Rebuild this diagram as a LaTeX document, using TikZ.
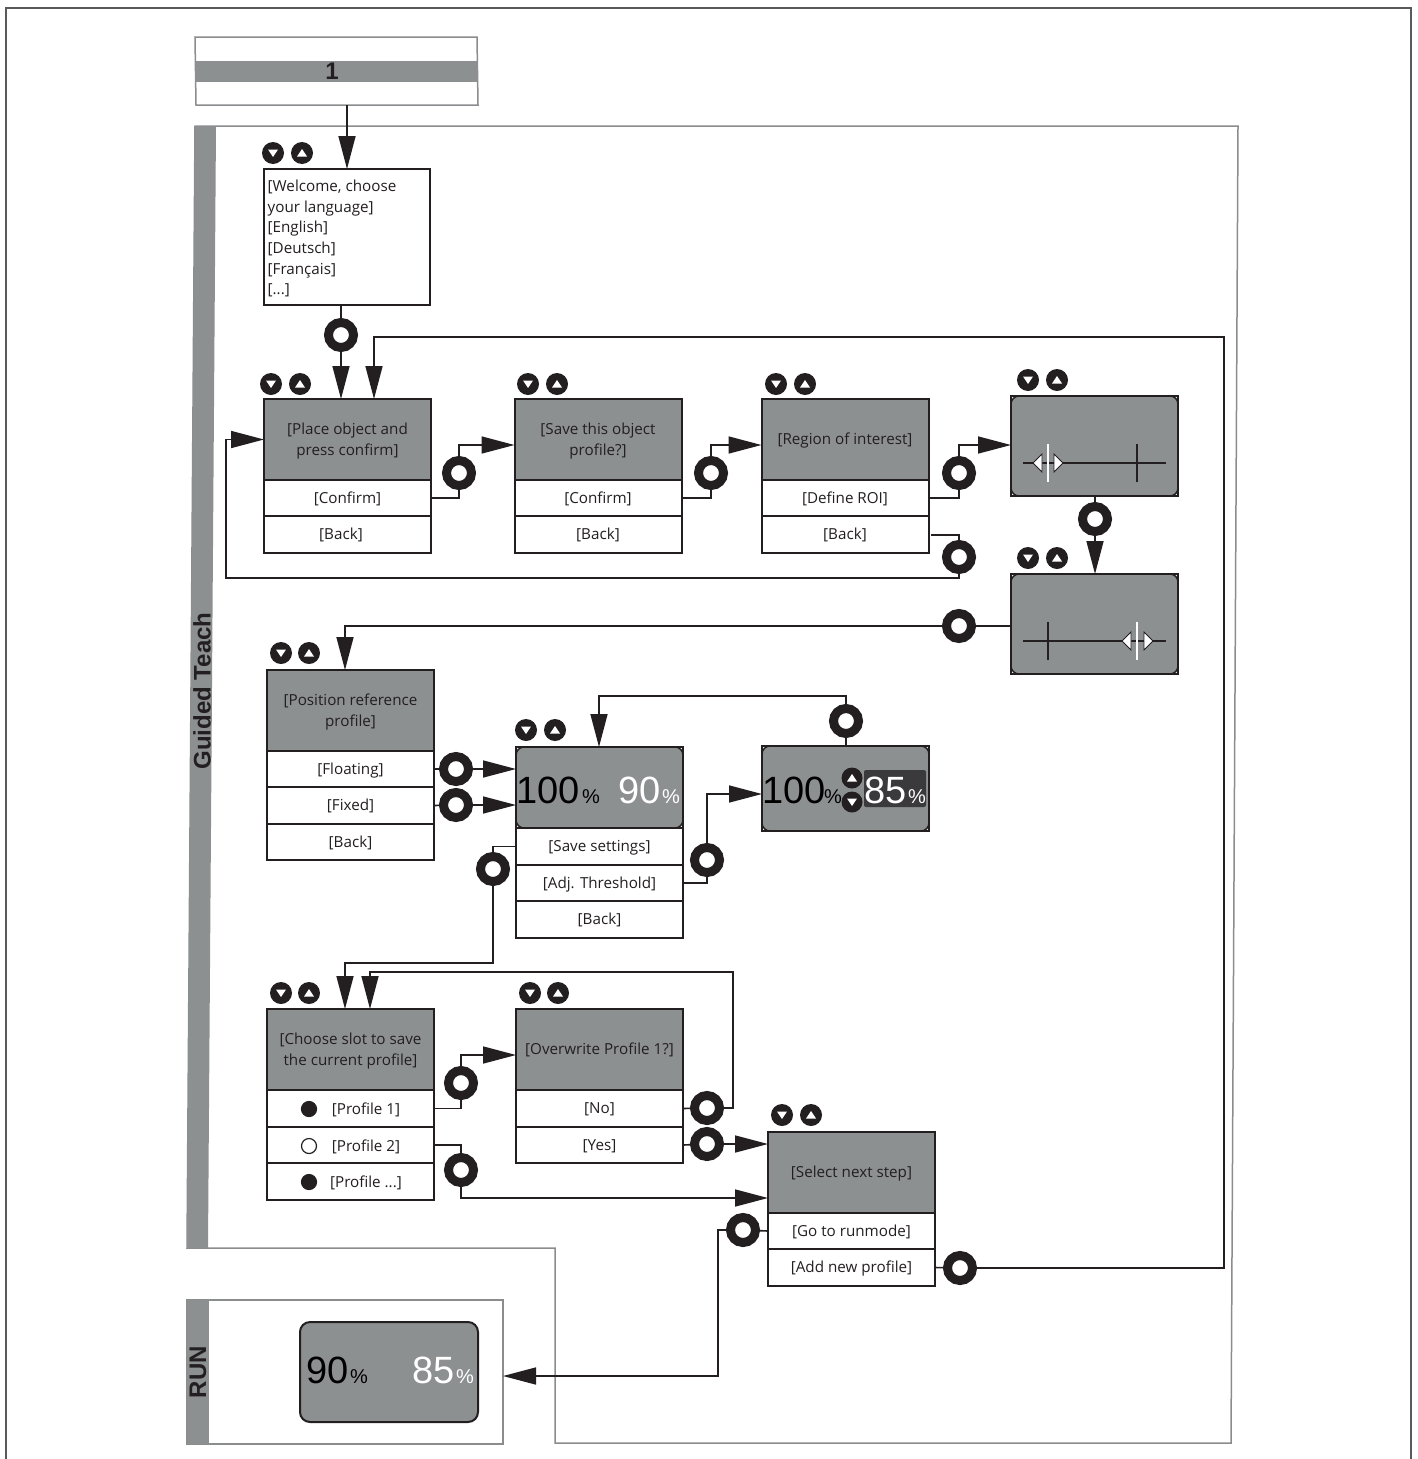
\documentclass[tikz,border=0pt]{standalone}
\usepackage{fontspec}
\usepackage{tikz}
\usetikzlibrary{arrows.meta}
\setmainfont{Open Sans}
\newfontfamily\arialfont{Liberation Sans}

\definecolor{ink}{HTML}{231F20}
\definecolor{panelgray}{HTML}{8D9091}
\definecolor{framegray}{HTML}{8A8C8E}
\definecolor{pagegray}{HTML}{58595B}
\definecolor{darkfield}{HTML}{3A3A3C}

\tikzset{
    link/.style={draw=ink, line width=1.6pt},
    flow/.style={link, -{Triangle[length=33pt,width=17pt]}},
    head/.style={shape=rectangle, draw=ink, line width=2pt, fill=panelgray, outer sep=0pt, inner sep=0pt, minimum width=167pt, minimum height=81pt, align=center, text=ink, text depth=1.4pt, font=\fontsize{15.2}{21}\selectfont},
    row/.style={head, fill=white, minimum height=36.5pt},
    lcd/.style={shape=rectangle, draw=ink, line width=2pt, fill=white, outer sep=0pt, inner sep=0pt, minimum width=167pt, path picture={\filldraw[fill=panelgray, draw=ink, line width=1.5pt, rounded corners=8pt] (path picture bounding box.south west) rectangle (path picture bounding box.north east);}},
    ring/.style={shape=circle, draw=ink, line width=9pt, fill=white, outer sep=0pt, inner sep=0pt, minimum size=25pt},
    navdn/.style={shape=circle, fill=ink, outer sep=0pt, inner sep=0pt, minimum size=22pt, path picture={\fill[white] ([shift={(-5pt,3.5pt)}]path picture bounding box.center) -- ++(10pt,0pt) -- ++(-5pt,-7.5pt) -- cycle;}},
    navup/.style={navdn, path picture={\fill[white] ([shift={(-5pt,-3.5pt)}]path picture bounding box.center) -- ++(10pt,0pt) -- ++(-5pt,7.5pt) -- cycle;}},
    big/.style={inner sep=0pt, anchor=base west, font=\arialfont\fontsize{38}{38}\selectfont},
    pct/.style={inner sep=0pt, anchor=base west, font=\arialfont\fontsize{20}{20}\selectfont},
    handle/.style={draw=ink, line width=0.8pt, fill=white},
    bullet/.style={shape=circle, draw=ink, line width=1.2pt, outer sep=0pt, inner sep=0pt, minimum size=15pt},
    caption/.style={text=ink, inner sep=0pt, font=\fontsize{15.2}{20.6}\selectfont},
    bandtitle/.style={text=ink, inner sep=0pt, font=\arialfont\bfseries\fontsize{24}{24}\selectfont}
}

\newcommand{\navpair}[4]{
    \node[navdn] (#1-dn) at (#2, #4) {};
    \node[navup] (#1-up) at (#3, #4) {};
}

\begin{document}
\begin{tikzpicture}[x=1pt, y=-1pt]
    \useasboundingbox (0, 0) rectangle (1417, 1459);

    % page frame
    \draw[draw=pagegray, line width=1.5pt] (6, 1459) -- (6, 8) -- (1411, 8) -- (1411, 1459);

    % start bar
    \draw[draw=framegray, line width=1.5pt, fill=white] (195, 37) -- (477, 37) -- (478, 105) -- (196, 105) -- cycle;
    \fill[panelgray] (195, 61) rectangle (478, 82);
    \node[bandtitle] (start) at (332, 71.5) {1};
    \coordinate (startout) at (347, 105);

    % guided teach frame
    \draw[draw=framegray, line width=1.5pt] (195, 126) -- (1238, 126) -- (1231, 1443) -- (555, 1443) -- (555, 1248) -- (187, 1248) -- cycle;
    \fill[panelgray] (195, 126) -- (216, 126) -- (208, 1248) -- (187, 1248) -- cycle;
    \node[bandtitle, rotate=90] (guided) at (202, 691) {Guided Teach};

    % run frame
    \node[shape=rectangle, draw=framegray, line width=1.5pt, outer sep=0pt, minimum width=316pt, minimum height=144pt] (runframe) at (345, 1372) {};
    \fill[panelgray] (187, 1300) rectangle (209, 1444);
    \node[bandtitle, rotate=90] (runtitle) at (198, 1372) {RUN};
    \node[shape=rectangle, draw=ink, line width=2pt, fill=panelgray, rounded corners=10pt, outer sep=0pt, minimum width=178pt, minimum height=100pt] (runlcd) at (389, 1372) {};
    \node[big, text=black] (runa) at (306, 1383) {90};
    \node[pct, text=black] (runap) at (350, 1383) {\%};
    \node[big, text=white] (runb) at (412, 1383) {85};
    \node[pct, text=white] (runbp) at (456, 1383) {\%};

    % language
    \node[shape=rectangle, draw=ink, line width=2pt, fill=white, outer sep=0pt, inner sep=0pt, minimum width=166pt, minimum height=136pt] (lang) at (347, 237) {};
    \node[caption, align=left, anchor=north west] (langtext) at (267.5, 180) {[Welcome, choose\\your language]\\{[English]}\\{[Deutsch]}\\{[Français]}\\{[...]}};
    \navpair{lang}{273}{302}{153}

    % place object
    \node[head] (place) at (347.5, 439.5) {[Place object and\\press confirm]};
    \node[row] (placea) at (347.5, 498) {[Confirm]};
    \node[row] (placeb) at (347.5, 534.5) {[Back]\hspace*{13pt}};
    \navpair{place}{271}{300}{384}

    % save object
    \node[head] (save) at (598, 439.5) {[Save this object\\profile?]};
    \node[row] (savea) at (598, 498) {[Confirm]};
    \node[row] (saveb) at (598, 534.5) {[Back]};
    \navpair{save}{528}{557}{384}

    % region
    \node[head] (roi) at (845, 439) {[Region of interest]};
    \node[row] (roia) at (845, 498) {[Define ROI]};
    \node[row] (roib) at (845, 534.5) {[Back]};
    \navpair{roi}{776}{805}{384}

    % slider screens
    \node[lcd, minimum height=100pt] (left) at (1094.5, 446) {};
    \navpair{left}{1028}{1057}{380}
    \node[lcd, minimum height=100pt] (right) at (1094.5, 624) {};
    \navpair{right}{1028}{1057}{558}

    \draw[draw=ink, line width=1.2pt] (1023, 463) -- (1166, 463);
    \draw[draw=ink, line width=1.2pt] (1137, 444) -- (1137, 482);
    \draw[draw=white, line width=1.2pt] (1048, 444) -- (1048, 482);
    \draw[handle] (1042, 454) -- (1033, 463) -- (1042, 472) -- cycle;
    \draw[handle] (1054, 454) -- (1063, 463) -- (1054, 472) -- cycle;

    \draw[draw=ink, line width=1.2pt] (1023, 641) -- (1166, 641);
    \draw[draw=ink, line width=1.2pt] (1048, 622) -- (1048, 660);
    \draw[draw=white, line width=1.2pt] (1137, 622) -- (1137, 660);
    \draw[handle] (1131, 632) -- (1122, 641) -- (1131, 650) -- cycle;
    \draw[handle] (1144, 632) -- (1153, 641) -- (1144, 650) -- cycle;

    % position reference
    \node[head, text depth=-2pt] (pos) at (350.5, 710.5) {[Position reference\\profile]};
    \node[row] (posa) at (350.5, 769) {[Floating]};
    \node[row] (posb) at (350.5, 805.5) {[Fixed]};
    \node[row] (posc) at (350.5, 842) {[Back]};
    \navpair{pos}{281}{309}{653}

    % threshold
    \node[lcd, minimum height=81pt] (thr) at (599.5, 787.5) {};
    \node[row] (thra) at (599.5, 846.5) {[Save settings]};
    \node[row] (thrb) at (599.5, 883) {[Adj. Threshold]};
    \node[row] (thrc) at (599.5, 919.5) {[Back]};
    \navpair{thr}{526}{555}{730}
    \node[big, text=black] (thrx) at (516, 803) {100};
    \node[pct, text=black] (thrxp) at (582, 803) {\%};
    \node[big, text=white] (thry) at (618, 803) {90};
    \node[pct, text=white] (thryp) at (662, 803) {\%};

    % threshold adjust
    \node[lcd, minimum height=85pt] (adj) at (845.5, 788.5) {};
    \node[shape=rectangle, fill=darkfield, rounded corners=2pt, outer sep=0pt, minimum width=62pt, minimum height=37pt] (adjfield) at (895, 788.5) {};
    \node[big, text=black] (adjx) at (762, 803) {100};
    \node[pct, text=black] (adjxp) at (824, 803) {\%};
    \node[navup, minimum size=21pt] (adj-up) at (852, 778) {};
    \node[navdn, minimum size=21pt] (adj-dn) at (852, 802) {};
    \node[big, text=white] (adjy) at (864, 803) {85};
    \node[pct, text=white] (adjyp) at (908, 803) {\%};

    % choose slot
    \node[head, text depth=-2pt] (slot) at (350.5, 1049.5) {[Choose slot to save\\the current profile]};
    \node[row] (slota) at (350.5, 1108.5) {};
    \node[row] (slotb) at (350.5, 1145) {};
    \node[row] (slotc) at (350.5, 1181.5) {};
    \navpair{slot}{281}{309}{993}
    \node[bullet, fill=ink] (dota) at (309, 1109) {};
    \node[bullet, fill=white] (dotb) at (309, 1146) {};
    \node[bullet, fill=ink] (dotc) at (309, 1182) {};
    \node[caption] (slotatext) at (366, 1110) {[Profile 1]};
    \node[caption] (slotbtext) at (366, 1146.5) {[Profile 2]};
    \node[caption] (slotctext) at (366, 1183) {[Profile ...]};

    % overwrite
    \node[head] (over) at (599.5, 1049.5) {[Overwrite Profile 1?]};
    \node[row, text depth=0pt] (overa) at (599.5, 1108.5) {[No]};
    \node[row, text depth=0pt] (overb) at (599.5, 1145) {[Yes]};
    \navpair{over}{530}{558}{993}

    % next step
    \node[head] (next) at (851.5, 1172.5) {[Select next step]};
    \node[row] (nexta) at (851.5, 1231) {[Go to runmode]};
    \node[row] (nextb) at (851.5, 1267.5) {[Add new profile]};
    \navpair{next}{782}{811}{1115}

    % rings
    \node[ring] (r1) at (341, 335) {};
    \node[ring] (r2) at (459, 473) {};
    \node[ring] (r3) at (711, 473) {};
    \node[ring] (r4) at (959, 473) {};
    \node[ring] (r5) at (959, 557) {};
    \node[ring] (r6) at (1095, 519) {};
    \node[ring] (r7) at (959, 626) {};
    \node[ring] (r8) at (456, 769) {};
    \node[ring] (r9) at (456, 805) {};
    \node[ring] (r10) at (846, 721) {};
    \node[ring] (r11) at (707, 860) {};
    \node[ring] (r12) at (493, 869) {};
    \node[ring] (r13) at (461, 1083) {};
    \node[ring] (r14) at (461, 1170) {};
    \node[ring] (r15) at (707, 1108) {};
    \node[ring] (r16) at (707, 1144) {};
    \node[ring] (r17) at (743, 1230) {};
    \node[ring] (r18) at (960, 1268) {};

    % connectors
    \path[flow] (startout) -- (lang.north -| startout);
    \path[link] (lang.south -| r1) -- (r1);
    \path[flow] (r1) -- (place.north -| r1);

    \path[link] (placea.east) -| (r2);
    \path[flow] (r2) |- (save.west |- 0, 445);
    \path[link] (savea.east) -| (r3);
    \path[flow] (r3) |- (roi.west |- 0, 445);
    \path[link] (roia.east) -| (r4);
    \path[flow] (r4) |- (left.west |- 0, 445);
    \path[link] (931, 535) -| (r5);
    \path[flow] (r5) |- (226, 578) |- (place.west);

    \path[link] (left.south -| r6) -- (r6);
    \path[flow] (r6) -- (right.north -| r6);
    \path[link] (right.west |- r7) -- (r7);
    \path[flow] (r7) -| (pos.north -| 345, 0);

    \path[link] (posa.east) -- (r8);
    \path[flow] (r8) -- (thr.west |- r8);
    \path[link] (posb.east) -- (r9);
    \path[flow] (r9) -- (thr.west |- r9);

    \path[link] (thrb.east) -| (r11);
    \path[flow] (r11) |- (adj.west |- 0, 794);
    \path[link] (adj.north -| r10) -- (r10);
    \path[flow] (r10) |- (599, 696) -- (thr.north -| 599, 0);

    \path[link] (thra.west) -| (r12);
    \path[flow] (r12) |- (345, 963) -- (slot.north -| 345, 0);

    \path[link] (slota.east) -| (r13);
    \path[flow] (r13) |- (over.west |- 0, 1055);
    \path[link] (slotb.east) -| (r14);
    \path[flow] (r14) |- (next.west |- 0, 1198);

    \path[link] (overa.east) -- (r15);
    \path[flow] (r15) -| (733, 972) -| (slot.north -| 370, 0);
    \path[link] (overb.east) -- (r16);
    \path[flow] (r16) -- (next.west |- r16);

    \path[link] (nexta.west) -- (r17);
    \path[flow] (r17) -| (718, 1376) -- (runframe.east |- 0, 1376);
    \path[link] (nextb.east) -- (r18);
    \path[flow] (r18) -| (1224, 337) -| (place.north -| 374, 0);
\end{tikzpicture}
\end{document}
